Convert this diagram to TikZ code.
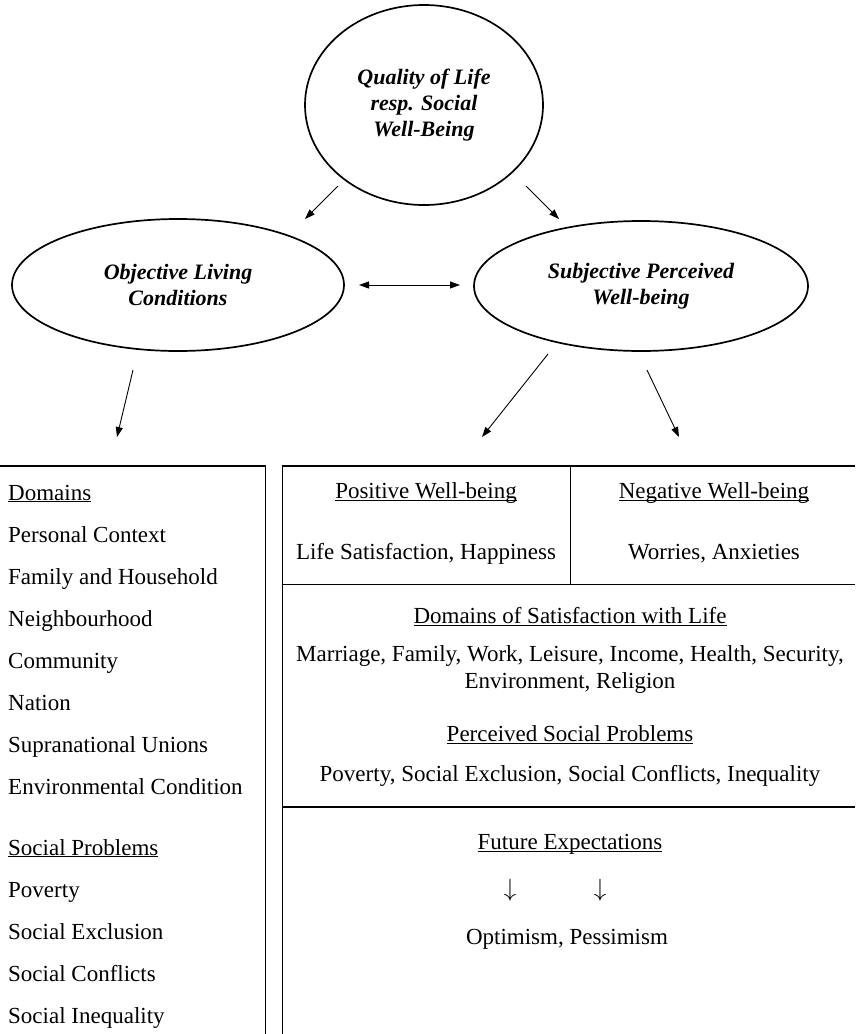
\documentclass[tikz,border=0pt]{standalone}
\usepackage{fontspec}
\setmainfont{Liberation Serif}
\usetikzlibrary{shapes.geometric,arrows.meta}
\newcommand\myul[1]{{\setbox0\hbox{#1}\rlap{\rule[-2pt]{\wd0}{0.9pt}}\box0}}
\begin{document}
\begin{tikzpicture}[x=1pt,y=-1pt,
  oval/.style={ellipse,draw,line width=1.7pt,inner sep=0pt,align=center,
    font=\fontsize{22}{26}\selectfont\bfseries\itshape},
  txt/.style={anchor=base,inner sep=0pt,font=\fontsize{23}{28}\selectfont},
  ltxt/.style={txt,anchor=base west},
  darrow/.style={anchor=center,inner sep=0pt,font=\fontsize{23}{28}\selectfont},
  link/.style={line width=0.9pt,-{Triangle[length=10pt,width=7pt]}},
  dlink/.style={line width=0.9pt,{Triangle[length=10pt,width=7pt]}-{Triangle[length=10pt,width=7pt]}},
  frame/.style={line width=1.2pt}]
\useasboundingbox (0,0) rectangle (855,1034);
\fill[white] (0,0) rectangle (855,1034);

% ellipses
\node[oval,minimum width=238pt,minimum height=200pt] (qol) at (424,105)
  {Quality of Life\\resp. Social\\ Well-Being};
\node[oval,minimum width=332pt,minimum height=132pt] (obj) at (178,285)
  {Objective Living\\Conditions};
\node[oval,minimum width=334pt,minimum height=130pt] (subj) at (641,286)
  {Subjective Perceived\\Well-being};

% arrow end points
\coordinate (q1) at (338,186);
\coordinate (o1) at (305,219);
\coordinate (q2) at (526,186);
\coordinate (s1) at (559,219);
\coordinate (d1) at (359,285);
\coordinate (d2) at (460,285);
\coordinate (o2) at (133,370);
\coordinate (b1) at (117,437);
\coordinate (s2) at (548,354);
\coordinate (b2) at (482,437);
\coordinate (s3) at (647,370);
\coordinate (b3) at (679,437);

\draw[link] (q1) -- (o1);
\draw[link] (q2) -- (s1);
\draw[dlink] (d1) -- (d2);
\draw[link] (o2) -- (b1);
\draw[link] (s2) -- (b2);
\draw[link] (s3) -- (b3);

% frames
\coordinate (lt) at (0,466);
\coordinate (lr) at (265.5,466);
\coordinate (lb) at (265.5,1034);
\coordinate (rb) at (282.5,1034);
\coordinate (rl) at (282.5,466);
\coordinate (rr) at (855,466);
\draw[frame] (lt) -- (lr) -- (lb);
\draw[frame] (rb) -- (rl) -- (rr);
\draw[frame] (282.5,584.5) -- (855,584.5);
\draw[frame] (282.5,807) -- (855,807);
\draw[frame] (570.3,466) -- (570.3,584.5);

% left list
\node[ltxt] (l1) at (8,500) {\myul{Domains}};
\node[ltxt] (l2) at (8,542) {Personal Context};
\node[ltxt] (l3) at (8,584) {Family and Household};
\node[ltxt] (l4) at (8,626) {Neighbourhood};
\node[ltxt] (l5) at (8,668) {Community};
\node[ltxt] (l6) at (8,710) {Nation};
\node[ltxt] (l7) at (8,752) {Supranational Unions};
\node[ltxt] (l8) at (8,794) {Environmental Condition};
\node[ltxt] (l9) at (8,855) {\myul{Social Problems}};
\node[ltxt] (l10) at (8,897) {Poverty};
\node[ltxt] (l11) at (8,939) {Social Exclusion};
\node[ltxt] (l12) at (8,981) {Social Conflicts};
\node[ltxt] (l13) at (8,1023) {Social Inequality};

% right box
\node[txt] (pw) at (426,498.5) {\myul{Positive Well-being}};
\node[txt] (nw) at (714,498.5) {\myul{Negative Well-being}};
\node[txt] (ls) at (426,559.5) {Life Satisfaction, Happiness};
\node[txt] (wa) at (714,559.5) {Worries, Anxieties};
\node[txt] (ds) at (570,623.5) {\myul{Domains of Satisfaction with Life}};
\node[txt] (mf) at (570,661.5) {Marriage, Family, Work, Leisure, Income, Health, Security,};
\node[txt] (er) at (570,688) {Environment, Religion};
\node[txt] (ps) at (570,741.5) {\myul{Perceived Social Problems}};
\node[txt] (pv) at (570,781.5) {Poverty, Social Exclusion, Social Conflicts, Inequality};
\node[txt] (fe) at (570,849.5) {\myul{Future Expectations}};
\node[darrow] (ar1) at (510,890.5) {$\downarrow$};
\node[darrow] (ar2) at (600,890.5) {$\downarrow$};
\node[txt] (op) at (567,944) {Optimism, Pessimism};
\end{tikzpicture}
\end{document}
